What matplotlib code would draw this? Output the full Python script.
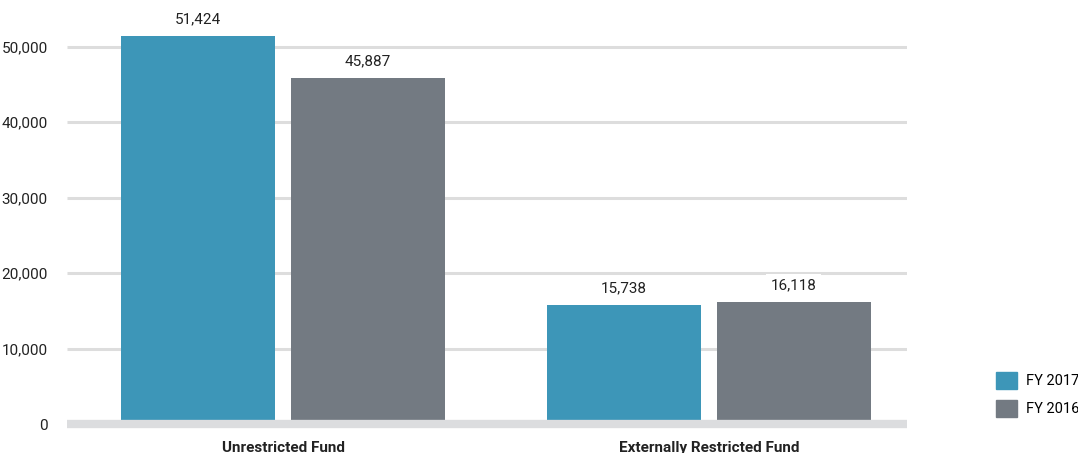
import numpy as np
import matplotlib.pyplot as plt
from matplotlib.patches import Patch
from matplotlib.ticker import FuncFormatter

categories = ["Unrestricted Fund", "Externally Restricted Fund"]
fy2017 = [51424, 15738]
fy2016 = [45887, 16118]
series_names = ["FY 2017", "FY 2016"]
yticks = [0, 10000, 20000, 30000, 40000, 50000]

plt.rcParams['font.family'] = ['Roboto', 'DejaVu Sans']

teal = "#3d96b8"
grey = "#737a82"

fig = plt.figure(figsize=(10.78, 4.53), dpi=100)
ax = fig.add_axes([0.0622, 0.064, 0.7792, 0.936])

x = np.arange(len(categories))
w = 0.3615
off = 0.1995
b1 = ax.bar(x - off, fy2017, w, color=teal, zorder=2)
b2 = ax.bar(x + off, fy2016, w, color=grey, zorder=2)

for bars in (b1, b2):
    for rect in bars:
        h = rect.get_height()
        ax.annotate(f"{h:,.0f}", (rect.get_x() + rect.get_width() / 2, h),
                    xytext=(0, 12), textcoords="offset points", ha="center", va="center",
                    fontsize=11, color="#222222", zorder=4,
                    bbox=dict(boxstyle="square,pad=0.3", fc="white", ec="none"))

ax.set_xlim(-0.507, 1.465)
ax.set_ylim(0, 56160)
ax.set_yticks(yticks)
ax.yaxis.set_major_formatter(FuncFormatter(lambda v, p: f"{v:,.0f}"))
ax.tick_params(axis="y", length=0, pad=14, labelsize=11, colors="#222222")
ax.set_xticks(x)
ax.set_xticklabels(categories, fontweight="bold", fontsize=11, color="#222222")
ax.tick_params(axis="x", length=0, pad=12)

for t in yticks[1:]:
    ax.axhline(t, color="#dddddd", lw=2.2, zorder=1, solid_capstyle="butt")
ax.axhline(0, color="#dcdddf", lw=6, zorder=3, clip_on=False, solid_capstyle="butt")

for s in ax.spines.values():
    s.set_visible(False)

handles = [Patch(color=teal), Patch(color=grey)]
fig.legend(handles, series_names, loc="lower left", bbox_to_anchor=(0.924, 0.08),
           frameon=False, fontsize=10.5, handlelength=1.43, handleheight=1.43,
           handletextpad=0.65, labelspacing=0.72, borderpad=0, borderaxespad=0)

fig.savefig("out.png", dpi=100)
